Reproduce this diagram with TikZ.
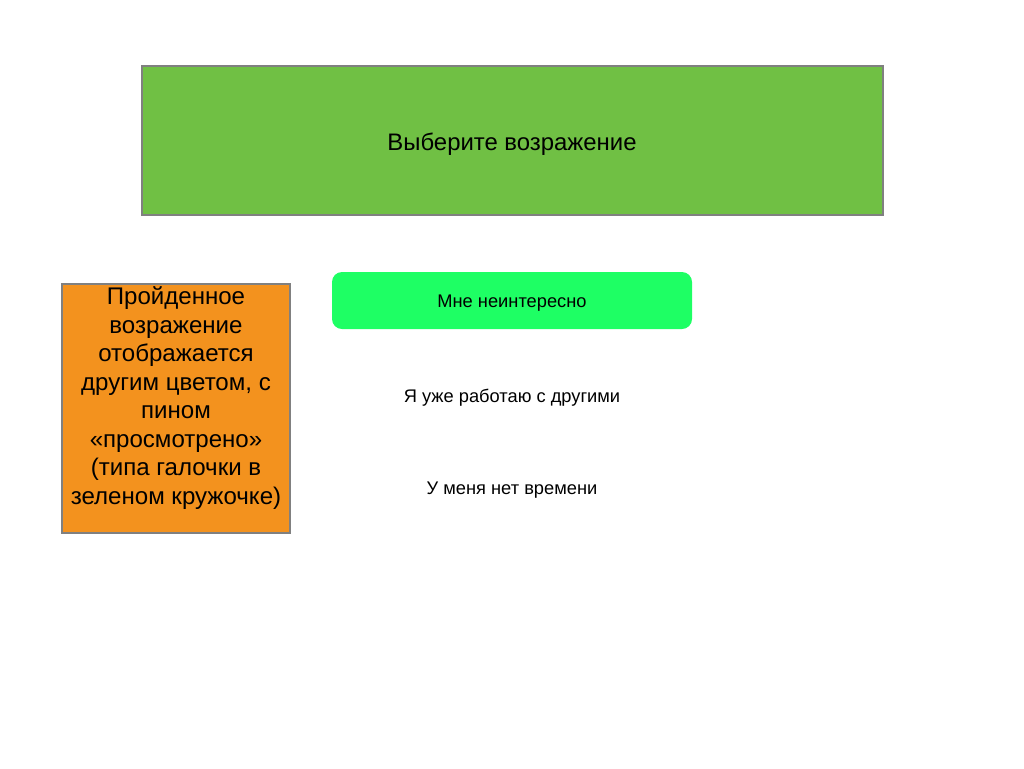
\documentclass[tikz,border=0pt]{standalone}
\usepackage{fontspec}
\setmainfont{Liberation Sans}
\usepackage{xcolor}
\usetikzlibrary{positioning}
\definecolor{headgreen}{RGB}{112,192,68}
\definecolor{passorange}{RGB}{243,146,30}
\definecolor{brightgreen}{RGB}{30,255,100}
\definecolor{frame}{RGB}{128,128,128}
\tikzset{
	x=0.02cm,
	y=-0.02cm,
	align=center,
	every node/.style={inner sep=0pt, outer sep=0pt},
	header/.style={draw=frame, line width=1pt, fill=headgreen, minimum width=741*0.02cm, minimum height=149*0.02cm},
	note/.style={draw=frame, line width=1pt, fill=passorange, minimum width=228*0.02cm, minimum height=249*0.02cm},
	chosen/.style={fill=brightgreen, rounded corners=0.2cm, minimum width=360*0.02cm, minimum height=57*0.02cm},
	headtext/.style={font=\fontsize{13.6}{16}\selectfont},
	notetext/.style={font=\fontsize{13.7}{16.2}\selectfont},
	option/.style={font=\fontsize{10.4}{12}\selectfont}
}
\begin{document}
\begin{tikzpicture}
	\useasboundingbox (0,0) rectangle (1024,768);
	\node[header] (title) at (512.5,140.5) {};
	\node[headtext] (titletext) at (512,144.5) {Выберите возражение};
	\node[note] (hint) at (176,408.5) {};
	\node[notetext] (hinttext) at (176,398) {Пройденное\\возражение\\отображается\\другим цветом, с\\пином\\«просмотрено»\\(типа галочки в\\зеленом кружочке)};
	\node[chosen] (opt1) at (512,300.5) {};
	\node[option] (opt1text) at (512,303.5) {Мне неинтересно};
	\node[option] (opt2) at (512,398) {Я уже работаю с другими};
	\node[option] (opt3) at (512,490) {У меня нет времени};
\end{tikzpicture}
\end{document}
